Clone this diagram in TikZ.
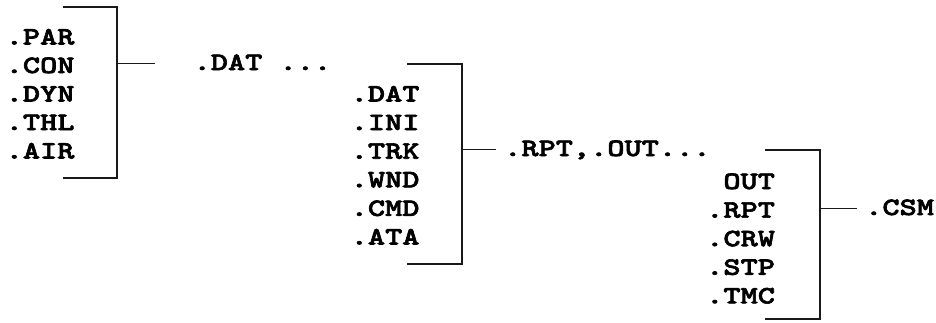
\documentclass[tikz,border=0pt]{standalone}
\usepackage{fontspec}
\newfontfamily\listfont{lmmonolt10-bold.otf}[FakeStretch=1.31, FakeBold=2.5]
\usetikzlibrary{positioning}
\tikzset{
  item/.style={font=\listfont\fontsize{25}{25}\selectfont, anchor=west,
    inner sep=0pt, text height=13pt, text depth=0pt},
  bracket/.style={line width=1.7pt, black!90},
  stub/.style={line width=1.7pt, black!90}
}

\begin{document}
\begin{tikzpicture}[x=1pt, y=-1pt]
  \useasboundingbox (0,0) rectangle (936,322);

  % first group: source files
  \foreach \n/\y in {PAR/38, CON/66.5, DYN/95, THL/123.5, AIR/152} {
    \node[item] (a\n) at (5.5,\y) {.\n};
  }
  \coordinate (a-tl) at (62.7,7);
  \coordinate (a-br) at (117,178);
  \coordinate (a-bl) at (62.7,178);
  \coordinate (a-mid) at (117,63.5);
  \coordinate (a-end) at (155,63.5);
  \draw[bracket] (a-tl) -| (a-br) -- (a-bl);
  \draw[stub] (a-mid) -- (a-end);
  \node[item, right=38.4pt of a-end] (adat) {.DAT ...};

  % second group
  \foreach \n/\y in {DAT/95, INI/123.6, TRK/152.2, WND/180.8, CMD/209.4, ATA/238} {
    \node[item] (b\n) at (350.5,\y) {.\n};
  }
  \coordinate (b-tl) at (407,64);
  \coordinate (b-br) at (462,264);
  \coordinate (b-bl) at (407,264);
  \coordinate (b-mid) at (462,149.5);
  \coordinate (b-end) at (496,149.5);
  \draw[bracket] (b-tl) -| (b-br) -- (b-bl);
  \draw[stub] (b-mid) -- (b-end);
  \node[item, right=8pt of b-end] (brpt) {.RPT,.OUT...};

  % third group
  \node[item] (cOUT) at (706,182.5) {\phantom{.}OUT};
  \foreach \n/\y in {RPT/211.1, CRW/239.7, STP/268.3, TMC/296.9} {
    \node[item] (c\n) at (706,\y) {.\n};
  }
  \coordinate (c-tl) at (765,150);
  \coordinate (c-br) at (820,319);
  \coordinate (c-bl) at (765,319);
  \coordinate (c-mid) at (820,208.5);
  \coordinate (c-end) at (857,208.5);
  \draw[bracket] (c-tl) -| (c-br) -- (c-bl);
  \draw[stub] (c-mid) -- (c-end);
  \node[item, right=8pt of c-end] (ccsm) {.CSM};
\end{tikzpicture}
\end{document}
